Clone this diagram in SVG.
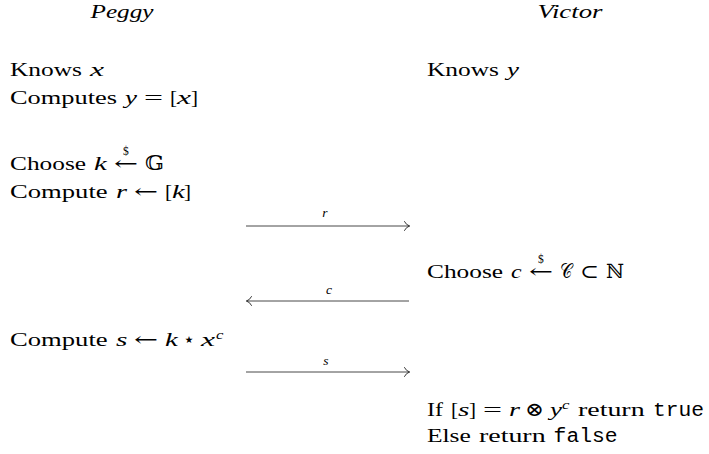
<svg xmlns="http://www.w3.org/2000/svg" width="709" height="454" viewBox="0 0 709 454">
<style>
text { font-family: "Liberation Serif", "DejaVu Serif", serif; font-size: 19.5px; fill: #000; }
.it { font-style: italic; }
.tt { font-family: "Liberation Mono", "DejaVu Sans Mono", monospace; }
.sy { font-family: "DejaVu Serif", "DejaVu Sans", serif; }
.sm { font-size: 11.5px; font-family: "Liberation Serif", serif; }
.sp { font-size: 13.5px; font-style: italic; }
.lab { font-size: 13.5px; font-style: italic; text-anchor: middle; }
.hd { text-anchor: middle; font-style: italic; }
.ln { stroke: #333; stroke-width: 0.9; fill: none; }
</style>
<defs>
<marker id="ah" viewBox="0 0 10 10" refX="9.6" refY="5" markerWidth="10" markerHeight="10" markerUnits="userSpaceOnUse" orient="auto">
<path d="M4.3 0.2 Q6.2 4 9.6 5 Q6.2 6 4.3 9.8" fill="none" stroke="#222" stroke-width="0.9"/>
</marker>
</defs>
<g id="peggy-header"><text class="hd" x="122" y="18" textLength="63" lengthAdjust="spacingAndGlyphs">Peggy</text></g>
<g id="victor-header"><text class="hd" x="570" y="18" textLength="65" lengthAdjust="spacingAndGlyphs">Victor</text></g>

<g id="peggy-knows">
<text x="10" y="76" textLength="72" lengthAdjust="spacingAndGlyphs">Knows</text>
<text class="it" x="90" y="76" textLength="14" lengthAdjust="spacingAndGlyphs">x</text>
</g>
<g id="peggy-computes">
<text x="10" y="104" textLength="107" lengthAdjust="spacingAndGlyphs">Computes</text>
<text class="it" x="125" y="104" textLength="12" lengthAdjust="spacingAndGlyphs">y</text>
<text x="144" y="104" textLength="19" lengthAdjust="spacingAndGlyphs">=</text>
<text x="170" y="104" textLength="7" lengthAdjust="spacingAndGlyphs">[</text>
<text class="it" x="177" y="104" textLength="14" lengthAdjust="spacingAndGlyphs">x</text>
<text x="191" y="104" textLength="7" lengthAdjust="spacingAndGlyphs">]</text>
</g>
<g id="victor-knows">
<text x="427" y="76" textLength="72" lengthAdjust="spacingAndGlyphs">Knows</text>
<text class="it" x="507" y="76" textLength="12" lengthAdjust="spacingAndGlyphs">y</text>
</g>
<g id="peggy-choose">
<text x="10" y="170" textLength="76" lengthAdjust="spacingAndGlyphs">Choose</text>
<text class="it" x="94" y="170" textLength="12.7" lengthAdjust="spacingAndGlyphs">k</text>
<text class="sy" y="170"><tspan x="114" textLength="24" lengthAdjust="spacingAndGlyphs">←</tspan><tspan class="sm" x="123" y="155">$</tspan></text>
<text class="sy" x="145" y="170" textLength="19" lengthAdjust="spacingAndGlyphs">𝔾</text>
</g>
<g id="peggy-commit">
<text x="10" y="198" textLength="97.6" lengthAdjust="spacingAndGlyphs">Compute</text>
<text class="it" x="116" y="198" textLength="11" lengthAdjust="spacingAndGlyphs">r</text>
<text class="sy" x="134" y="198" textLength="24" lengthAdjust="spacingAndGlyphs">←</text>
<text x="165" y="198" textLength="7" lengthAdjust="spacingAndGlyphs">[</text>
<text class="it" x="172" y="198" textLength="12.7" lengthAdjust="spacingAndGlyphs">k</text>
<text x="184" y="198" textLength="7" lengthAdjust="spacingAndGlyphs">]</text>
</g>
<g id="victor-choose">
<text x="427" y="278" textLength="76" lengthAdjust="spacingAndGlyphs">Choose</text>
<text class="it" x="511" y="278" textLength="10.6" lengthAdjust="spacingAndGlyphs">c</text>
<text class="sy" y="278"><tspan x="529" textLength="24" lengthAdjust="spacingAndGlyphs">←</tspan><tspan class="sm" x="538" y="263">$</tspan></text>
<text class="sy" x="560" y="278" textLength="12.5" lengthAdjust="spacingAndGlyphs">𝒞</text>
<text class="sy" x="580" y="278" textLength="19" lengthAdjust="spacingAndGlyphs">⊂</text>
<text class="sy" x="606" y="278" textLength="18" lengthAdjust="spacingAndGlyphs">ℕ</text>
</g>
<g id="peggy-response">
<text x="10" y="346" textLength="97.6" lengthAdjust="spacingAndGlyphs">Compute</text>
<text class="it" x="116" y="346" textLength="11.4" lengthAdjust="spacingAndGlyphs">s</text>
<text class="sy" x="134" y="346" textLength="24" lengthAdjust="spacingAndGlyphs">←</text>
<text class="it" x="165" y="346" textLength="12.7" lengthAdjust="spacingAndGlyphs">k</text>
<text class="sy" x="183" y="346" textLength="12" lengthAdjust="spacingAndGlyphs">⋆</text>
<text class="it" x="201" y="346" textLength="14" lengthAdjust="spacingAndGlyphs">x</text>
<text class="sp" x="216" y="339" textLength="7.4" lengthAdjust="spacingAndGlyphs">c</text>
</g>
<g id="victor-verify">
<text x="427" y="416" textLength="16" lengthAdjust="spacingAndGlyphs">If</text>
<text x="451" y="416" textLength="7" lengthAdjust="spacingAndGlyphs">[</text>
<text class="it" x="458" y="416" textLength="11.4" lengthAdjust="spacingAndGlyphs">s</text>
<text x="469" y="416" textLength="7" lengthAdjust="spacingAndGlyphs">]</text>
<text x="483" y="416" textLength="19" lengthAdjust="spacingAndGlyphs">=</text>
<text class="it" x="509" y="416" textLength="11" lengthAdjust="spacingAndGlyphs">r</text>
<text class="sy" x="525" y="416" textLength="19" lengthAdjust="spacingAndGlyphs">⊗</text>
<text class="it" x="550" y="416" textLength="12" lengthAdjust="spacingAndGlyphs">y</text>
<text class="sp" x="562" y="409" textLength="7.4" lengthAdjust="spacingAndGlyphs">c</text>
<text x="578" y="416" textLength="66.6" lengthAdjust="spacingAndGlyphs">return</text>
<text class="tt" x="653" y="416" textLength="51" lengthAdjust="spacingAndGlyphs">true</text>
</g>
<g id="victor-else">
<text x="427" y="442" textLength="43.8" lengthAdjust="spacingAndGlyphs">Else</text>
<text x="479" y="442" textLength="66.6" lengthAdjust="spacingAndGlyphs">return</text>
<text class="tt" x="553.6" y="442" textLength="64" lengthAdjust="spacingAndGlyphs">false</text>
</g>

<g id="connectors">
<line class="ln" x1="246" y1="226" x2="409.6" y2="226" marker-end="url(#ah)"/>
<text class="lab" x="325" y="217">r</text>
<line class="ln" x1="409" y1="301" x2="246.4" y2="301" marker-end="url(#ah)"/>
<text class="lab" x="329" y="294">c</text>
<line class="ln" x1="246" y1="372" x2="409.6" y2="372" marker-end="url(#ah)"/>
<text class="lab" x="326" y="365">s</text>
</g>
</svg>
